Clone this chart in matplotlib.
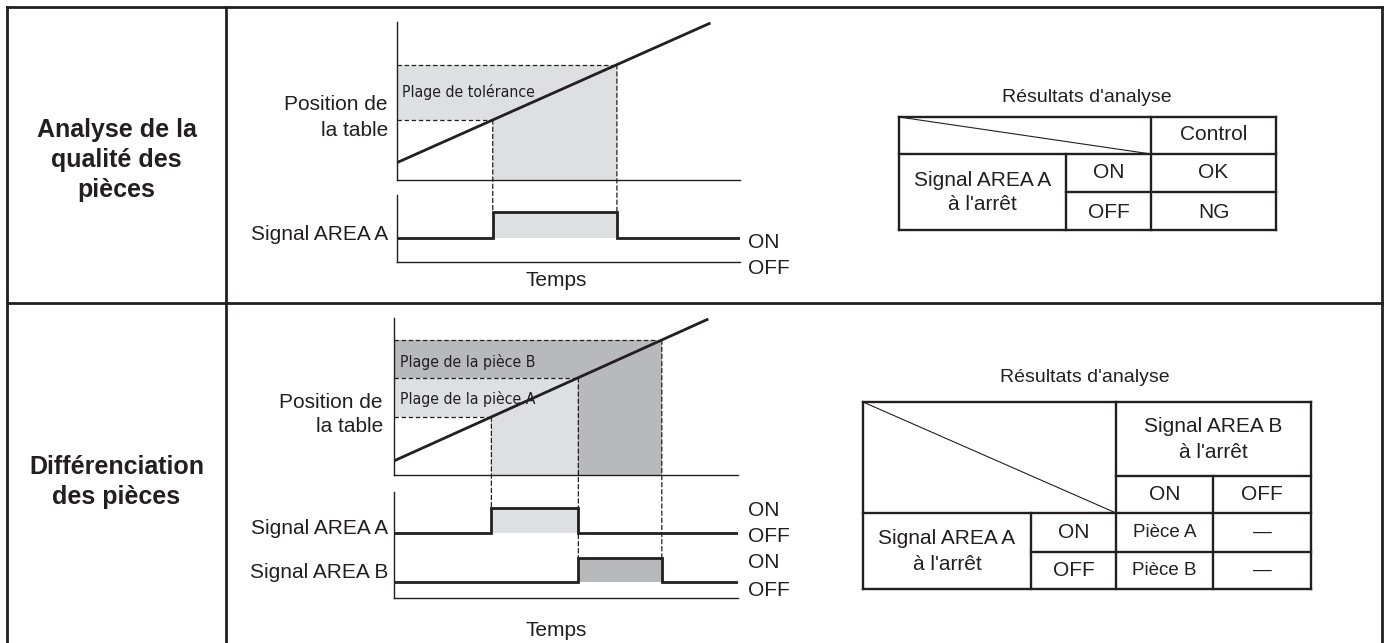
import matplotlib
matplotlib.use("Agg")
import matplotlib.pyplot as plt
from matplotlib import font_manager
from matplotlib.font_manager import FontProperties
from matplotlib.lines import Line2D
from matplotlib.patches import ConnectionPatch

# ---------------------------------------------------------------- data
row_titles = [["Analyse de la", "qualité des", "pièces"],
              ["Différenciation", "des pièces"]]

time_limits = [0, 100]
position_limits = [0, 100]

# quality analysis: table ramp and tolerance window
q_ramp_time = [0, 91]
q_ramp_pos = [11, 99]
q_band = [38, 73]

# part differentiation: table ramp and the two part windows
d_ramp_time = [0, 91]
d_ramp_pos = [9, 99]
d_band_a = [37, 62]
d_band_b = [62, 86]

signal_off, signal_on = 0, 1

results_title = "Résultats d'analyse"
t1_column = "Control"
t1_row = ["Signal AREA A", "à l'arrêt"]
t1_states = ["ON", "OFF"]
t1_results = ["OK", "NG"]

t2_column = ["Signal AREA B", "à l'arrêt"]
t2_col_states = ["ON", "OFF"]
t2_row = ["Signal AREA A", "à l'arrêt"]
t2_row_states = ["ON", "OFF"]
t2_results = [["Pièce A", "—"], ["Pièce B", "—"]]

# ---------------------------------------------------------------- style
W, H = 1388, 643
INK = "#231f20"
LIGHT = "#dedfe1"
DARK = "#b8b9bb"
FONT = "Liberation Sans"


def narrow_font():
    """Pick a regular-weight condensed face for the window captions."""
    candidates = [
        (FontProperties(family="Liberation Sans Narrow"), 13),
        (FontProperties(family="DejaVu Sans", stretch="condensed"), 11.3),
        (FontProperties(family="Open Sans Condensed", weight="light"), 12.5),
    ]
    for fp, size in candidates:
        try:
            path = font_manager.findfont(fp, fallback_to_default=False)
        except Exception:
            continue
        low = path.lower()
        if "bold" in low:
            continue
        if ("narrow" in low) or ("condensed" in low):
            return dict(fontproperties=FontProperties(fname=path, size=size))
    return dict(family=FONT, fontsize=11.5)


NARROW_KW = narrow_font()

plt.rcParams["font.family"] = [FONT, "DejaVu Sans"]
plt.rcParams["text.color"] = INK

fig = plt.figure(figsize=(W / 100, H / 100), dpi=100)
fig.patch.set_facecolor("white")

# frame axes in pixel units for the grid, captions and tables
frame = fig.add_axes([0, 0, 1, 1])
frame.set_xlim(0, W)
frame.set_ylim(H, 0)
frame.axis("off")


def hline(y, x0, x1, lw=1.8, **kw):
    frame.add_line(Line2D([x0, x1], [y, y], color=INK, lw=lw,
                          solid_capstyle="projecting", **kw))


def vline(x, y0, y1, lw=1.8, **kw):
    frame.add_line(Line2D([x, x], [y0, y1], color=INK, lw=lw,
                          solid_capstyle="projecting", **kw))


def label(x, y, s, size=15, ha="center", **kw):
    frame.text(x, y, s, fontsize=size, ha=ha, va="center", color=INK, **kw)


# outer grid
hline(7, 7, 1382, lw=2)
hline(303, 7, 1382, lw=2)
vline(7, 7, H + 5, lw=2)
vline(226, 7, H + 5, lw=2)
vline(1382, 7, H + 5, lw=2)

# row captions
for lines, y0 in zip(row_titles, [130, 467]):
    for i, s in enumerate(lines):
        label(116.5, y0 + i * 30, s, size=18, fontweight="bold")


def px_axes(x0, y0, x1, y1):
    ax = fig.add_axes([x0 / W, 1 - y1 / H, (x1 - x0) / W, (y1 - y0) / H])
    ax.patch.set_alpha(0)
    for side in ("top", "right"):
        ax.spines[side].set_visible(False)
    for side in ("left", "bottom"):
        ax.spines[side].set_color(INK)
        ax.spines[side].set_linewidth(1.0)
    ax.set_xticks([])
    ax.set_yticks([])
    return ax


def crossing(ramp_t, ramp_p, p):
    return ramp_t[0] + (p - ramp_p[0]) * (ramp_t[1] - ramp_t[0]) / (ramp_p[1] - ramp_p[0])


DASH = dict(color=INK, lw=0.9, linestyle=(0, (3.5, 2.2)))


def window(ax, ramp_t, ramp_p, band, color):
    t_lo = crossing(ramp_t, ramp_p, band[0])
    t_hi = crossing(ramp_t, ramp_p, band[1])
    ax.fill_between([time_limits[0], t_hi], band[0], band[1], color=color, lw=0, zorder=1)
    ax.fill_between([t_lo, t_hi], position_limits[0], band[0], color=color, lw=0, zorder=1)
    return t_lo, t_hi


def signal(ax, t_on, t_off, base, color):
    lo, hi = base + signal_off, base + signal_on
    ax.fill_between([t_on, t_off], lo, hi, color=color, lw=0, zorder=1)
    ax.plot([time_limits[0], t_on, t_on, t_off, t_off, time_limits[1]],
            [lo, lo, hi, hi, lo, lo], color=INK, lw=2.0, zorder=3,
            solid_joinstyle="miter")


def drop(ax_pos, t, p, ax_sig, level):
    con = ConnectionPatch(xyA=(t, p), coordsA=ax_pos.transData,
                          xyB=(t, level), coordsB=ax_sig.transData, **DASH)
    fig.add_artist(con)


def caption(ax, x, y, s):
    ax.text(x, y, s, ha="left", va="center", color=INK, zorder=2, **NARROW_KW)


# ---------------------------------------------------------------- quality analysis timing
qa_pos = px_axes(397, 22, 740, 180)
qa_pos.set_xlim(time_limits)
qa_pos.set_ylim(position_limits)
q_lo, q_hi = window(qa_pos, q_ramp_time, q_ramp_pos, q_band, LIGHT)
qa_pos.plot([0, q_lo], [q_band[0]] * 2, zorder=2, **DASH)
qa_pos.plot([0, q_hi], [q_band[1]] * 2, zorder=2, **DASH)
qa_pos.plot(q_ramp_time, q_ramp_pos, color=INK, lw=2.0, zorder=3)
caption(qa_pos, 1.5, sum(q_band) / 2, "Plage de tolérance")

qa_sig = px_axes(397, 195, 740, 262)
qa_sig.set_xlim(time_limits)
qa_sig.set_ylim(-0.92, 1.65)
signal(qa_sig, q_lo, q_hi, 0, LIGHT)
drop(qa_pos, q_lo, q_band[0], qa_sig, signal_on)
drop(qa_pos, q_hi, q_band[1], qa_sig, signal_on)

label(388, 105, "Position de", ha="right")
label(388, 131, "la table", ha="right")
label(388, 235, "Signal AREA A", ha="right")
label(556, 281, "Temps")
label(748, 242, "ON", ha="left")
label(748, 269, "OFF", ha="left")

# ---------------------------------------------------------------- part differentiation timing
dp_pos = px_axes(394, 318, 738, 475)
dp_pos.set_xlim(time_limits)
dp_pos.set_ylim(position_limits)
a_lo, a_hi = window(dp_pos, d_ramp_time, d_ramp_pos, d_band_a, LIGHT)
b_lo, b_hi = window(dp_pos, d_ramp_time, d_ramp_pos, d_band_b, DARK)
for p, t in [(d_band_a[0], a_lo), (d_band_a[1], a_hi), (d_band_b[1], b_hi)]:
    dp_pos.plot([0, t], [p, p], zorder=2, **DASH)
dp_pos.plot(d_ramp_time, d_ramp_pos, color=INK, lw=2.0, zorder=3)
caption(dp_pos, 1.8, sum(d_band_b) / 2 - 2, "Plage de la pièce B")
caption(dp_pos, 1.8, sum(d_band_a) / 2 - 1, "Plage de la pièce A")

dp_sig = px_axes(394, 492, 738, 598)
dp_sig.set_xlim(time_limits)
dp_sig.set_ylim(-0.65, 3.67)
signal(dp_sig, a_lo, a_hi, 2, LIGHT)
signal(dp_sig, b_lo, b_hi, 0, DARK)
drop(dp_pos, a_lo, d_band_a[0], dp_sig, 2 + signal_on)
drop(dp_pos, a_hi, d_band_a[1], dp_sig, signal_on)
drop(dp_pos, b_hi, d_band_b[1], dp_sig, signal_on)

label(383, 402, "Position de", ha="right")
label(383, 427, "la table", ha="right")
label(388, 528, "Signal AREA A", ha="right")
label(388, 573, "Signal AREA B", ha="right")
label(556, 630, "Temps")
for s, y in zip(["ON", "OFF", "ON", "OFF"], [511, 537, 563, 590]):
    label(748, y, s, ha="left")

# ---------------------------------------------------------------- results table 1
TL = 1.7
label(1087, 97, results_title, size=14)
X1 = [899, 1066, 1151, 1276]
Y1 = [117, 154, 192, 230]
hline(Y1[0], X1[0], X1[3], lw=TL)
hline(Y1[1], X1[0], X1[3], lw=TL)
hline(Y1[2], X1[1], X1[3], lw=TL)
hline(Y1[3], X1[0], X1[3], lw=TL)
vline(X1[0], Y1[0], Y1[3], lw=TL)
vline(X1[1], Y1[1], Y1[3], lw=TL)
vline(X1[2], Y1[0], Y1[3], lw=TL)
vline(X1[3], Y1[0], Y1[3], lw=TL)
frame.add_line(Line2D([X1[0], X1[2]], [Y1[0], Y1[1]], color=INK, lw=0.8))
label((X1[2] + X1[3]) / 2, 135, t1_column)
label((X1[0] + X1[1]) / 2, 180, t1_row[0])
label((X1[0] + X1[1]) / 2, 205, t1_row[1])
for i, (st, res) in enumerate(zip(t1_states, t1_results)):
    yc = (Y1[1 + i] + Y1[2 + i]) / 2 + 2 * i
    label((X1[1] + X1[2]) / 2, yc, st)
    label((X1[2] + X1[3]) / 2, yc, res)

# ---------------------------------------------------------------- results table 2
label(1085, 378, results_title, size=14)
X2 = [863, 1031, 1116, 1213, 1311]
Y2 = [402, 476, 513, 552, 589]
hline(Y2[0], X2[0], X2[4], lw=TL)
hline(Y2[1], X2[2], X2[4], lw=TL)
hline(Y2[2], X2[0], X2[4], lw=TL)
hline(Y2[3], X2[1], X2[4], lw=TL)
hline(Y2[4], X2[0], X2[4], lw=TL)
vline(X2[0], Y2[0], Y2[4], lw=TL)
vline(X2[1], Y2[2], Y2[4], lw=TL)
vline(X2[2], Y2[0], Y2[4], lw=TL)
vline(X2[3], Y2[1], Y2[4], lw=TL)
vline(X2[4], Y2[0], Y2[4], lw=TL)
frame.add_line(Line2D([X2[0], X2[2]], [Y2[0], Y2[2]], color=INK, lw=0.8))
label((X2[2] + X2[4]) / 2, 427, t2_column[0])
label((X2[2] + X2[4]) / 2, 453, t2_column[1])
for j, st in enumerate(t2_col_states):
    label((X2[2 + j] + X2[3 + j]) / 2, (Y2[1] + Y2[2]) / 2, st)
label((X2[0] + X2[1]) / 2, 538, t2_row[0])
label((X2[0] + X2[1]) / 2, 565, t2_row[1])
for i, st in enumerate(t2_row_states):
    yc = (Y2[2 + i] + Y2[3 + i]) / 2
    label((X2[1] + X2[2]) / 2, yc, st)
    for j, res in enumerate(t2_results[i]):
        label((X2[2 + j] + X2[3 + j]) / 2, yc, res, size=13.5)

fig.savefig("out.png", dpi=100, facecolor="white")
